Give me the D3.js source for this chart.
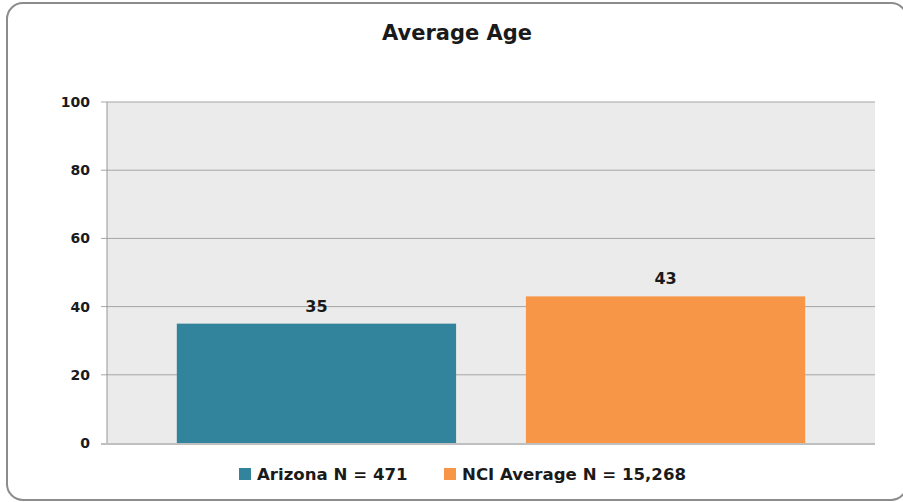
<!DOCTYPE html>
<html>
<head>
<meta charset="utf-8">
<script src="https://cdn.jsdelivr.net/npm/d3@7"></script>
<style>
  body { margin: 0; background: #fff; }
  text { font-family: "DejaVu Sans", sans-serif; font-weight: bold; fill: #1a1a1a; }
</style>
</head>
<body>
<div id="canvas"></div>
<script>
const width = 903;
const height = 502;

const categories = ["Arizona N = 471", "NCI Average N = 15,268"];
const values = [35, 43];
const colors = ["#31849b", "#f79646"];
const yTicks = [0, 20, 40, 60, 80, 100];

const svg = d3.select("#canvas")
    .append("svg")
    .attr("width", width)
    .attr("height", height);

// outer frame
svg.append("rect")
    .attr("x", 7)
    .attr("y", 3)
    .attr("width", 900)
    .attr("height", 497)
    .attr("rx", 16)
    .attr("fill", "#fff")
    .attr("stroke", "#8c8c8c")
    .attr("stroke-width", 2);

const plotLeft = 107, plotRight = 875, plotTop = 102, plotBottom = 443;

var xScale = d3.scaleBand()
    .domain(categories)
    .range([plotLeft, plotRight])
    .padding(0.2);

var yScale = d3.scaleLinear()
    .domain([0, 100])
    .range([plotBottom, plotTop]);

svg.append("rect")
    .attr("x", plotLeft)
    .attr("y", plotTop)
    .attr("width", plotRight - plotLeft)
    .attr("height", plotBottom - plotTop)
    .attr("fill", "#ebebeb");

// gridlines + ticks
svg.selectAll(".grid")
    .data(yTicks.filter(d => d > 0))
    .join("line")
    .attr("class", "grid")
    .attr("x1", plotLeft - 6)
    .attr("x2", plotRight)
    .attr("y1", d => yScale(d))
    .attr("y2", d => yScale(d))
    .attr("stroke", "#a6a6a6")
    .attr("stroke-width", 1);

svg.selectAll(".ylab")
    .data(yTicks)
    .join("text")
    .attr("class", "ylab")
    .attr("x", 90)
    .attr("y", d => yScale(d) + 5)
    .attr("text-anchor", "end")
    .attr("font-size", "14px")
    .text(d => d);

svg.selectAll(".bar")
    .data(values)
    .join("rect")
    .attr("class", "bar")
    .attr("x", (d, i) => xScale(categories[i]))
    .attr("y", d => yScale(d))
    .attr("width", xScale.bandwidth())
    .attr("height", d => plotBottom - yScale(d))
    .attr("fill", (d, i) => colors[i]);

svg.selectAll(".vlab")
    .data(values)
    .join("text")
    .attr("class", "vlab")
    .attr("x", (d, i) => xScale(categories[i]) + xScale.bandwidth() / 2)
    .attr("y", d => yScale(d) - 12)
    .attr("text-anchor", "middle")
    .attr("font-size", "16px")
    .text(d => d);

// axes lines
svg.append("line")
    .attr("x1", plotLeft).attr("x2", plotLeft)
    .attr("y1", plotTop).attr("y2", plotBottom)
    .attr("stroke", "#969696");
svg.append("line")
    .attr("x1", plotLeft - 6).attr("x2", plotRight)
    .attr("y1", plotBottom + 1).attr("y2", plotBottom + 1)
    .attr("stroke", "#bfbfbf")
    .attr("stroke-width", 2);

svg.append("text")
    .attr("x", 457)
    .attr("y", 40)
    .attr("text-anchor", "middle")
    .attr("font-size", "21px")
    .text("Average Age");

// legend
const legendX = [239, 444];
const legend = svg.selectAll(".leg")
    .data(categories)
    .join("g")
    .attr("class", "leg")
    .attr("transform", (d, i) => `translate(${legendX[i]},474)`);
legend.append("rect")
    .attr("x", 0).attr("y", -6)
    .attr("width", 12).attr("height", 12)
    .attr("fill", (d, i) => colors[i]);
legend.append("text")
    .attr("x", 18)
    .attr("y", 6)
    .attr("font-size", "16.6px")
    .text(d => d);
</script>
</body>
</html>
